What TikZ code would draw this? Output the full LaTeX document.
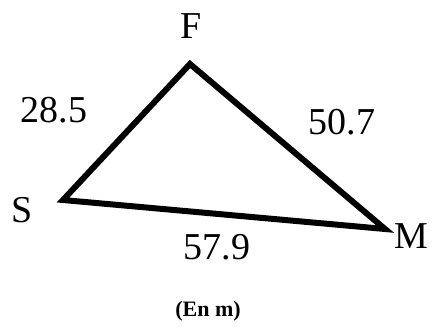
\documentclass[tikz,border=0pt]{standalone}
\usepackage{fontspec}
\setmainfont{Liberation Serif}
\usepackage{tikz}
\usetikzlibrary{positioning}

\begin{document}
\begin{tikzpicture}[x=1pt, y=-1pt,
					side/.style={line width=6pt, line join=miter},
					vertexlabel/.style={inner sep=0pt, font=\fontsize{38}{40}\selectfont},
					lengthlabel/.style={inner sep=0pt, font=\fontsize{38}{40}\selectfont},
					unitlabel/.style={inner sep=0pt, font=\fontsize{22}{24}\selectfont\bfseries}
				]
					\useasboundingbox (0,0) rectangle (434,327);
					
					% Vertices
					\coordinate (S) at (63,200);
					\coordinate (F) at (190,64);
					\coordinate (M) at (385,229);
					
					% Triangle
					\draw[side] (S) -- (F) -- (M) -- cycle;
					
					% Labels
					\node[vertexlabel] (labelF) at (191,26) {F};
					\node[vertexlabel] (labelS) at (22,210) {S};
					\node[vertexlabel] (labelM) at (411,236) {M};
					\node[lengthlabel] (sideSF) at (54,110) {28.5};
					\node[lengthlabel] (sideFM) at (342,122) {50.7};
					\node[lengthlabel] (sideSM) at (217,247) {57.9};
					\node[unitlabel] (unit) at (208,311) {(En m)};
				\end{tikzpicture}
\end{document}
